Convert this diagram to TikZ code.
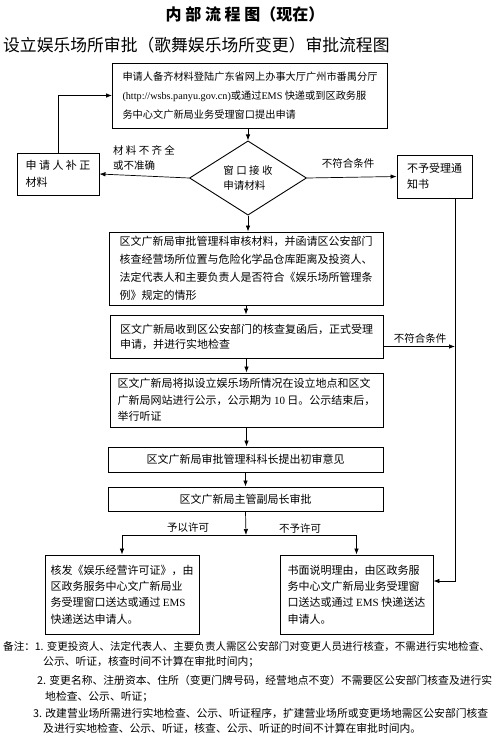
\documentclass[tikz,border=0pt]{standalone}
\usepackage{fontspec}
\setmainfont{Noto Sans CJK SC}
\newfontfamily\latin{Liberation Serif}
\usetikzlibrary{arrows.meta,shapes.geometric}
\newcommand{\fs}[2]{\fontsize{#1}{#2}\selectfont}
\tikzset{
  box/.style={draw, line width=0.9pt, align=left, inner sep=0pt},
  dia/.style={draw, diamond, line width=0.9pt, align=left, inner sep=0pt, font=\fs{10.5}{15.5}},
  flow/.style={-{Latex[length=6pt,width=4.5pt]}, line width=0.7pt},
  lbl/.style={font=\fs{10.5}{15}, align=left, inner sep=0pt},
  note/.style={anchor=west, font=\fs{10.8}{13}, inner sep=0pt},
}

\begin{document}
\begin{tikzpicture}[x=1pt, y=-1pt]
  \useasboundingbox (0,0) rectangle (500,741);

  % Headings
  \node[font=\bfseries\fs{16}{18}] (title) at (245,14) {内 部 流 程 图（现在）};
  \node[anchor=west, inner sep=0pt, font=\fs{16.8}{18}] (subtitle) at (3,45)
    {设立娱乐场所审批（歌舞娱乐场所变更）审批流程图};

  % Application and window
  \node[box, minimum width=275, minimum height=65, font=\fs{10.2}{19}] (apply) at (250,95.5)
    {申请人备齐材料登陆广东省网上办事大厅广州市番禺分厅\\
     {\latin(http://wsbs.panyu.gov.cn)}或通过{\latin EMS} 快递或到区政务服\\
     务中心文广新局业务受理窗口提出申请};
  \node[dia, minimum width=117, minimum height=71] (window) at (248,178)
    {窗 口 接 收\\申请材料};
  \node[box, minimum width=82, minimum height=42, font=\fs{11}{17}] (fix) at (58,174)
    {申 请 人 补 正\\材料};
  \node[box, minimum width=75, minimum height=43, font=\fs{11}{15.5}] (reject) at (434.5,176.5)
    {不予受理通\\知书};

  % Review steps
  \node[box, minimum width=274, minimum height=73, font=\fs{11}{18}] (check) at (246,268.5)
    {区文广新局审批管理科审核材料，并函请区公安部门\\
     核查经营场所位置与危险化学品仓库距离及投资人、\\
     法定代表人和主要负责人是否符合《娱乐场所管理条\\
     例》规定的情形};
  \node[box, minimum width=273, minimum height=43, font=\fs{11}{15}] (accept) at (246.5,336.5)
    {区文广新局收到区公安部门的核查复函后，正式受理\\
     申请，并进行实地检查};
  \node[box, minimum width=273, minimum height=54, font=\fs{11}{16.5}] (publicity) at (246.5,400)
    {区文广新局将拟设立娱乐场所情况在设立地点和区文\\
     广新局网站进行公示，公示期为 {\latin 10} 日。公示结束后，\\
     举行听证};
  \node[box, minimum width=275, minimum height=25, font=\fs{11}{15}] (opinion) at (245.5,459.5)
    {区文广新局审批管理科科长提出初审意见};
  \node[box, minimum width=275, minimum height=24, font=\fs{11}{15}] (deputy) at (245.5,499)
    {区文广新局主管副局长审批};

  % Results
  \node[box, minimum width=154, minimum height=79, font=\fs{11}{16.3}] (grant) at (122,594.5)
    {核发《娱乐经营许可证》，由\\
     区政务服务中心文广新局业\\
     务受理窗口送达或通过 {\latin EMS}\\
     快递送达申请人。};
  \node[box, minimum width=153, minimum height=79, font=\fs{11}{16.3}] (refuse) at (356.5,594.5)
    {书面说明理由，由区政务服\\
     务中心文广新局业务受理窗\\
     口送达或通过 {\latin EMS} 快递送达\\
     申请人。};

  \coordinate (rline) at (455,581);
  \coordinate (split) at (246,535);
  \coordinate (nofit) at ([yshift=-10pt]accept.east);

  % Connectors
  \draw[flow] (window.north |- apply.south) -- (window.north);
  \draw[flow] (window.west) -- (fix.east);
  \draw[flow] (fix.north) |- (apply.west);
  \draw[flow] (window.east) -- (reject.west);
  \draw[flow] (window.south) -- (window.south |- check.north);
  \draw[flow] (check.south) -- (check.south |- accept.north);
  \draw[flow] (accept.south) -- (accept.south |- publicity.north);
  \draw[flow] (publicity.south) -- (publicity.south |- opinion.north);
  \draw[flow] (opinion.south) -- (opinion.south |- deputy.north);
  \draw[flow] (deputy.south) -- (split);
  \draw[line width=0.7pt] (split -| grant.north) -- (split -| refuse.north);
  \draw[flow] (split -| grant.north) -- (grant.north);
  \draw[flow] (split -| refuse.north) -- (refuse.north);
  \draw[flow] (nofit) -- (nofit -| rline);
  \draw[flow] (reject.south -| rline) -- (rline) -- (rline -| refuse.east);

  % Labels
  \node[lbl] (lack) at (144,158) {材 料 不 齐 全\\或不准确};
  \node[lbl] (nofitA) at (348,163) {不符合条件};
  \node[lbl] (nofitB) at (420,338) {不符合条件};
  \node[lbl] (yes) at (188,528) {予以许可};
  \node[lbl] (no) at (300,528) {不予许可};

  % Notes
  \node[note, font=\fs{10.55}{13}] (n1) at (3,647) {备注：1. 变更投资人、法定代表人、主要负责人需区公安部门对变更人员进行核查，不需进行实地检查、};
  \node[note] (n1b) at (43,662) {公示、听证，核查时间不计算在审批时间内；};
  \node[note] (n2) at (37,680) {2. 变更名称、注册资本、住所（变更门牌号码，经营地点不变）不需要区公安部门核查及进行实};
  \node[note] (n2b) at (45,697) {地检查、公示、听证；};
  \node[note] (n3) at (33,713) {3. 改建营业场所需进行实地检查、公示、听证程序，扩建营业场所或变更场地需区公安部门核查};
  \node[note] (n3b) at (43,728) {及进行实地检查、公示、听证，核查、公示、听证的时间不计算在审批时间内。};
\end{tikzpicture}
\end{document}
